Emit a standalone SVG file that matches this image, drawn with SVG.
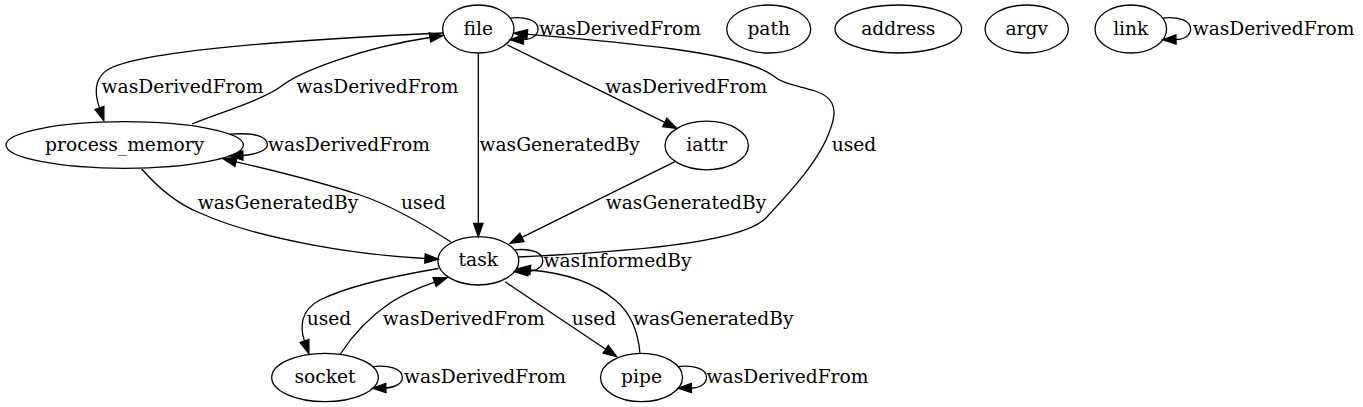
<svg xmlns="http://www.w3.org/2000/svg" width="1363" height="407" viewBox="0 0 1363 407">
<style>
.n ellipse{fill:none;stroke:#000;stroke-width:1.3}
text{font-family:"DejaVu Serif","Liberation Serif",serif;font-size:18.67px;fill:#000;text-anchor:middle}
.e path{fill:none;stroke:#000;stroke-width:1.3;marker-end:url(#ah)}
</style>
<defs>
<marker id="ah" markerUnits="userSpaceOnUse" markerWidth="16" markerHeight="12" viewBox="0 -6 16 12" refX="0" refY="0" orient="auto" overflow="visible">
<path d="M0,-4.67 L13.3,0 L0,4.67 Z" fill="#000" stroke="#000" stroke-width="1.3"/>
</marker>
</defs>
<rect width="1363" height="407" fill="#fff"/>
<g id="connectors" class="e">
<g id="e-file-file"><path d="M510.1,18.1 C525.4,16.5 538,20.2 538,29 C538,35 532.4,39.3 523.4,39.5"/><text x="620" y="34.5">wasDerivedFrom</text></g>
<g id="e-file-pm"><path d="M443,33 C330,38 160,48 113,67 C92,76 95,95 99.5,108"/><text x="182.5" y="92.5">wasDerivedFrom</text></g>
<g id="e-pm-file"><path d="M192,124 C225,111 265,99 283,85 C300,72 360,48 430,37.5"/><text x="377.5" y="92.5">wasDerivedFrom</text></g>
<g id="e-pm-pm"><path d="M229.6,134.1 C254.8,132.5 267.4,136.2 267.4,145 C267.4,151 251.9,155.3 242.9,155.5"/><text x="349" y="150.5">wasDerivedFrom</text></g>
<g id="e-file-task"><path d="M478.3,53 L478.3,223.5"/><text x="559.7" y="150.5">wasGeneratedBy</text></g>
<g id="e-file-iattr"><path d="M507.3,45 L664.8,122.4"/><text x="686.3" y="92.5">wasDerivedFrom</text></g>
<g id="e-task-file"><path d="M518.5,257 C620,252 740,244 766,218 C790,192 820,160 830,130 C840,105 830,96 815,91 C795,85 783,84 772,75 C740,52 620,42 527.3,34.2"/><text x="854" y="150.5">used</text></g>
<g id="e-iattr-task"><path d="M675,161.7 L521.9,237.4"/><text x="686" y="208.5">wasGeneratedBy</text></g>
<g id="e-pm-task"><path d="M141.7,169 C160,190 180,205 200,213 C260,240 360,255 425,258.5"/><text x="278" y="208.5">wasGeneratedBy</text></g>
<g id="e-task-pm"><path d="M451,242 C420,222 390,205 360,195 C320,182 280,172 236,161.8"/><text x="423.3" y="208.5">used</text></g>
<g id="e-task-task"><path d="M514.5,249.9 C530.2,248.3 542.8,252 542.8,260.8 C542.8,266.8 536.8,271.1 527.8,271.3"/><text x="617.5" y="266.5">wasInformedBy</text></g>
<g id="e-task-socket"><path d="M438.5,268.5 C400,275 350,285 320,300 C300,310 300,328 304.5,341"/><text x="329" y="324.5">used</text></g>
<g id="e-socket-task"><path d="M340,354.5 C352,336 368,318 390,303 C402,295 415,289 434.6,282.1"/><text x="463.8" y="324.5">wasDerivedFrom</text></g>
<g id="e-socket-socket"><path d="M372.6,366.6 C389.7,365 402.3,368.7 402.3,377.5 C402.3,383.5 394.9,387.8 385.9,388"/><text x="485" y="383">wasDerivedFrom</text></g>
<g id="e-task-pipe"><path d="M505,281.7 L605.7,349.3"/><text x="594" y="324.5">used</text></g>
<g id="e-pipe-task"><path d="M640,353.5 C638,330 630,312 615,300 C595,283 565,273 530.3,270"/><text x="713.3" y="324.5">wasGeneratedBy</text></g>
<g id="e-pipe-pipe"><path d="M678.1,366.6 C693.9,365 706.5,368.7 706.5,377.5 C706.5,383.5 700.4,387.8 691.4,388"/><text x="787.5" y="383">wasDerivedFrom</text></g>
<g id="e-link-link"><path d="M1162.7,18.1 C1178,16.5 1190.6,20.2 1190.6,29 C1190.6,35 1185,39.3 1176,39.5"/><text x="1273.6" y="34.5">wasDerivedFrom</text></g>
</g>
<g id="node-file" class="n"><ellipse cx="478.3" cy="29" rx="35.7" ry="24"/><text x="478.3" y="34.5">file</text></g>
<g id="node-path" class="n"><ellipse cx="768.7" cy="29" rx="42" ry="24"/><text x="768.7" y="34.5">path</text></g>
<g id="node-address" class="n"><ellipse cx="898.3" cy="29" rx="63.3" ry="24"/><text x="898.3" y="34.5">address</text></g>
<g id="node-argv" class="n"><ellipse cx="1026.7" cy="29" rx="41.7" ry="24"/><text x="1026.7" y="34.5">argv</text></g>
<g id="node-link" class="n"><ellipse cx="1130.8" cy="29" rx="35.8" ry="24"/><text x="1130.8" y="34.5">link</text></g>
<g id="node-process_memory" class="n"><ellipse cx="124.7" cy="145" rx="118.7" ry="23.3"/><text x="124.7" y="150.5">process_memory</text></g>
<g id="node-iattr" class="n"><ellipse cx="706.7" cy="145.5" rx="41.7" ry="24.3"/><text x="706.7" y="151">iattr</text></g>
<g id="node-task" class="n"><ellipse cx="478.3" cy="260.8" rx="40.5" ry="24.2"/><text x="478.3" y="266.3">task</text></g>
<g id="node-socket" class="n"><ellipse cx="325" cy="377.5" rx="53.3" ry="24.2"/><text x="325" y="383">socket</text></g>
<g id="node-pipe" class="n"><ellipse cx="641.5" cy="377.5" rx="41" ry="24.2"/><text x="641.5" y="383">pipe</text></g>
</svg>
